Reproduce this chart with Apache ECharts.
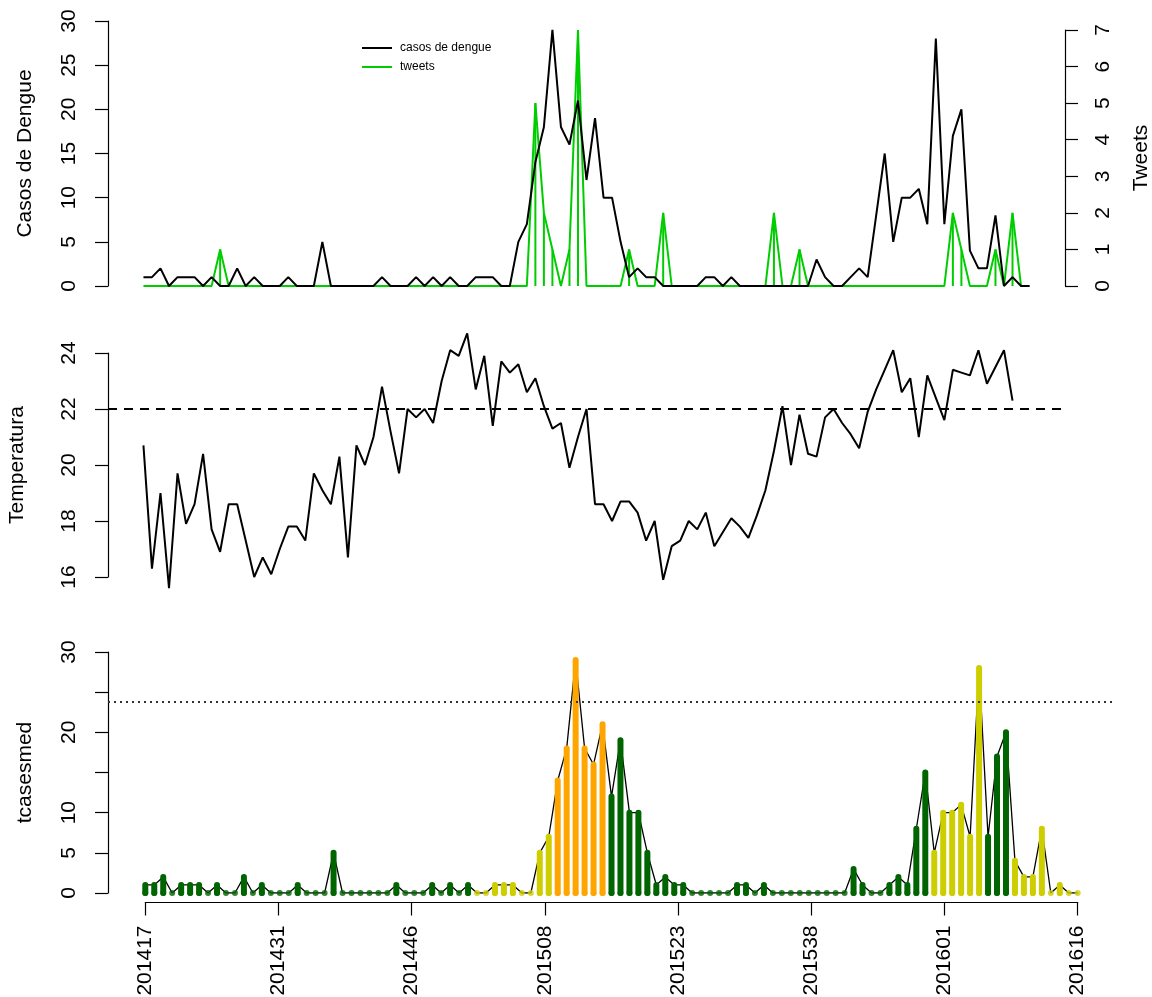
<!DOCTYPE html>
<html><head><meta charset="utf-8">
<script src="https://cdn.jsdelivr.net/npm/echarts@6/dist/echarts.min.js"></script>
<style>html,body{margin:0;padding:0;background:#fff}#c{width:1152px;height:997px}</style>
</head><body><div id="c"></div>
<script>
var weeks = ['201417','201418','201419','201420','201421','201422','201423','201424','201425','201426','201427','201428','201429','201430','201431','201432','201433','201434','201435','201436','201437','201438','201439','201440','201441','201442','201443','201444','201445','201446','201447','201448','201449','201450','201451','201452','201453',
'201501','201502','201503','201504','201505','201506','201507','201508','201509','201510','201511','201512','201513','201514','201515','201516','201517','201518','201519','201520','201521','201522','201523','201524','201525','201526','201527','201528','201529','201530','201531','201532','201533','201534','201535','201536','201537','201538','201539','201540','201541','201542','201543','201544','201545','201546','201547','201548','201549','201550','201551','201552',
'201601','201602','201603','201604','201605','201606','201607','201608','201609','201610','201611','201612','201613','201614','201615','201616'];
var dengue = [1,1,2,0,1,1,1,0,1,0, 0,2,0,1,0,0,0,1,0,0, 0,5,0,0,0,0,0,0,1,0,
  0,0,1,0,1,0,1,0,0,1, 1,1,0,0,5,7,14,18,29,18, 16,21,12,19,10,10,5,1,2,1,
  1,0,0,0,0,0,1,1,0,1, 0,0,0,0,0,0,0,0,0,3, 1,0,0,1,2,1,8,15,5,10,
  10,11,7,28,7,17,20,4,2,2, 8,0,1,0,0];
var tweets = [0,0,0,0,0,0,0,0,0,1, 0,0,0,0,0,0,0,0,0,0, 0,0,0,0,0,0,0,0,0,0,
  0,0,0,0,0,0,0,0,0,0, 0,0,0,0,0,0,5,2,1,0, 1,7,0,0,0,0,0,1,0,0,
  0,2,0,0,0,0,0,0,0,0, 0,0,0,0,2,0,0,1,0,0, 0,0,0,0,0,0,0,0,0,0,
  0,0,0,0,0,2,1,0,0,0, 1,0,2,0,0];
var temperatura = [20.7,16.3,19.0,15.6,19.7,17.9,18.6,20.4,17.7,16.9,
  18.6,18.6,17.3,16.0,16.7,16.1,17.0,17.8,17.8,17.3,
  19.7,19.1,18.6,20.3,16.7,20.7,20.0,21.0,22.8,21.2,
  19.7,22.0,21.7,22.0,21.5,23.0,24.1,23.9,24.7,22.7,
  23.9,21.4,23.7,23.3,23.6,22.6,23.1,22.1,21.3,21.5,
  19.9,21.0,22.0,18.6,18.6,18.0,18.7,18.7,18.3,17.3,
  18.0,15.9,17.1,17.3,18.0,17.7,18.3,17.1,17.6,18.1,
  17.8,17.4,18.2,19.1,20.5,22.1,20.0,21.8,20.4,20.3,
  21.7,22.0,21.5,21.1,20.6,21.9,22.7,23.4,24.1,22.6,
  23.1,21.0,23.2,22.4,21.6,23.4,23.3,23.2,24.1,22.9,
  23.5,24.1,22.3];
// bar colour class per week: g = darkgreen, y = yellow3, o = orange
var barClass = ('ggggggggggggggggggggggggggggggggggggg' + 'yyyyyyyyy' + 'oooooo' +
  'gggggggggggggggggggggggggggggggggggg' + 'yyyyyy' + 'ggg' + 'yyyyyyyy').split('');
var temperatureRef = 22;
var casesThreshold = 23.8;

var palette = {g: '#006400', y: '#CDCD00', o: '#FFA500'};
var GREEN = '#00CD00';
var FONT = 'Liberation Sans, Arial, Helvetica, sans-serif';
var FS = 21;
var N = dengue.length;
var pad = 0.04 * (N - 1);
var xmin = -pad, xmax = (N - 1) + pad;
var tickPos = [0,1,2,3,4,5,6,7].map(function (k) { return k * (N - 1) / 7; });

function pts(arr) { return arr.map(function (v, i) { return [i, v]; }); }

var lab = {fontFamily: FONT, fontSize: FS, color: '#000'};
var axLine = {show: true, onZero: false, lineStyle: {color: '#000', width: 1.2}};
var axTick = {show: true, length: 13, lineStyle: {color: '#000', width: 1.2}};

function hiddenX(gi) {
  return {type: 'value', gridIndex: gi, min: xmin, max: xmax, show: false};
}
function g(o) { o.outerBoundsMode = 'none'; o.containLabel = false; return o; }
// vertical "type h" segments drawn through the axes' own coordinate system
function hLines(width, colorOf, cap) {
  return function (params, api) {
    var x = api.value(0), y = api.value(1);
    var p0 = api.coord([x, 0]), p1 = api.coord([x, y]);
    return {type: 'line', shape: {x1: p0[0], y1: p0[1], x2: p1[0], y2: p1[1]},
      style: {stroke: colorOf(params.dataIndex), lineWidth: width, lineCap: cap}};
  };
}
function classColor(i) { return palette[barClass[i]]; }
var capBottom = dengue.map(function (v, i) {
  return {value: [i, 0], itemStyle: {color: classColor(i)}};
});

var option = {
  animation: false,
  backgroundColor: '#fff',
  textStyle: {fontFamily: FONT},
  legend: {
    data: [{name: 'casos de dengue', icon: 'rect'}, {name: 'tweets', icon: 'rect'}],
    orient: 'vertical', left: 357, top: 37,
    itemWidth: 30, itemHeight: 2, itemGap: 7,
    textStyle: {fontFamily: FONT, fontSize: 12, color: '#000', padding: [0, 0, 0, 3]}
  },
  grid: [
    g({left: 108, width: 957, top: 21, height: 265}),
    g({left: 108, width: 957, top: 30, height: 256}),
    g({left: 108, width: 957, top: 353, height: 224}),
    g({left: 108, width: 1007, top: 652, height: 241}),
    g({left: 145.3, width: 932.4, top: 901.5, height: 1})
  ],
  xAxis: [
    hiddenX(0), hiddenX(1), hiddenX(2), hiddenX(3),
    {type: 'value', gridIndex: 4, min: 0, max: N - 1, position: 'bottom',
      axisLine: axLine, splitLine: {show: false},
      axisTick: {show: true, length: 13, lineStyle: {color: '#000', width: 1.2}, customValues: tickPos},
      axisLabel: {show: true, rotate: 90, margin: 23, fontFamily: FONT, fontSize: FS, color: '#000',
        customValues: tickPos,
        formatter: function (v) { return weeks[Math.floor(v + 1e-6)]; }}
    }
  ],
  yAxis: [
    {type: 'value', gridIndex: 0, min: 0, max: 30, interval: 5, position: 'left',
      name: 'Casos de Dengue', nameLocation: 'middle', nameRotate: 90, nameGap: 72,
      nameTextStyle: lab, axisLine: axLine, axisTick: axTick, splitLine: {show: false},
      axisLabel: Object.assign({rotate: 90, margin: 28}, lab)},
    {type: 'value', gridIndex: 1, min: 0, max: 7, interval: 1, position: 'right',
      name: 'Tweets', nameLocation: 'middle', nameRotate: 90, nameGap: 66,
      nameTextStyle: lab, axisLine: axLine, axisTick: axTick, splitLine: {show: false},
      axisLabel: Object.assign({rotate: 90, margin: 28}, lab)},
    {type: 'value', gridIndex: 2, min: 16, max: 24, interval: 2, position: 'left',
      name: 'Temperatura', nameLocation: 'middle', nameRotate: 90, nameGap: 80,
      nameTextStyle: lab, axisLine: axLine, axisTick: axTick, splitLine: {show: false},
      axisLabel: Object.assign({rotate: 90, margin: 28}, lab)},
    {type: 'value', gridIndex: 3, min: 0, max: 30, interval: 5, position: 'left',
      name: 'tcasesmed', nameLocation: 'middle', nameRotate: 90, nameGap: 72,
      nameTextStyle: lab, axisLine: axLine, axisTick: axTick, splitLine: {show: false},
      axisLabel: Object.assign({rotate: 90, margin: 28,
        formatter: function (v) { return (v === 15 || v === 25) ? '' : String(v); }}, lab)},
    {type: 'value', gridIndex: 4, show: false, min: 0, max: 1}
  ],
  series: [
    {name: 'tweets_h', type: 'custom', xAxisIndex: 1, yAxisIndex: 1, data: pts(tweets),
      renderItem: hLines(2, function () { return GREEN; }, 'butt'), silent: true, z: 2},
    {name: 'tweets', type: 'line', xAxisIndex: 1, yAxisIndex: 1, data: pts(tweets),
      symbol: 'none', lineStyle: {color: GREEN, width: 2}, itemStyle: {color: GREEN}, z: 3},
    {name: 'casos de dengue', type: 'line', xAxisIndex: 0, yAxisIndex: 0, data: pts(dengue),
      symbol: 'none', lineStyle: {color: '#000', width: 2}, itemStyle: {color: '#000'}, z: 4},
    {name: 'temperatura', type: 'line', xAxisIndex: 2, yAxisIndex: 2, data: pts(temperatura),
      symbol: 'none', clip: false, lineStyle: {color: '#000', width: 2}, z: 3,
      markLine: {silent: true, symbol: ['none', 'none'], label: {show: false},
        lineStyle: {color: '#000', width: 2, type: [9, 7]}, data: [{yAxis: temperatureRef}]}},
    {name: 'tcases_line', type: 'line', xAxisIndex: 3, yAxisIndex: 3, data: pts(dengue),
      symbol: 'none', lineStyle: {color: '#000', width: 1.3}, z: 2,
      markLine: {silent: true, symbol: ['none', 'none'], label: {show: false},
        lineStyle: {color: '#333', width: 2, type: [2, 4]}, data: [{yAxis: casesThreshold}]}},
    {name: 'tcases_h', type: 'custom', xAxisIndex: 3, yAxisIndex: 3, data: pts(dengue),
      renderItem: hLines(6, classColor, 'round'), silent: true, z: 3},
    {name: 'tcases_cap_bottom', type: 'scatter', xAxisIndex: 3, yAxisIndex: 3, data: capBottom,
      symbol: 'circle', symbolSize: 6, silent: true, z: 3}
  ]
};
var chart = echarts.init(document.getElementById('c'));
chart.setOption(option);
</script></body></html>
